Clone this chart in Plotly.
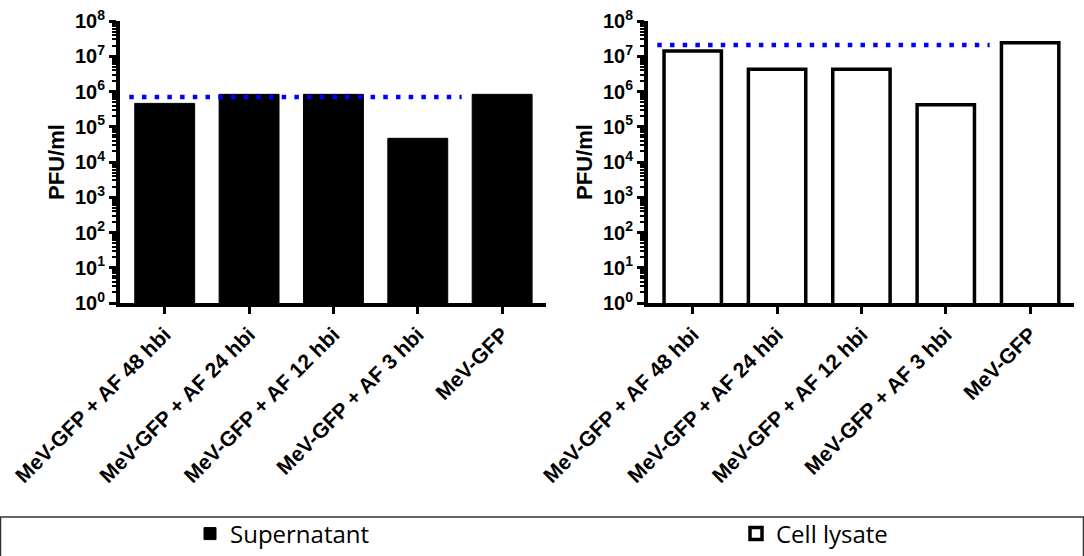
import plotly.graph_objects as go
from plotly.subplots import make_subplots

categories = ["MeV-GFP + AF 48 hbi", "MeV-GFP + AF 24 hbi", "MeV-GFP + AF 12 hbi",
              "MeV-GFP + AF 3 hbi", "MeV-GFP"]
supernatant = [4.6e5, 8.3e5, 8.3e5, 4.7e4, 8.3e5]
cell_lysate = [1.4e7, 4.3e6, 4.3e6, 4.2e5, 2.4e7]
ref_supernatant = 7.0e5
ref_cell_lysate = 2.1e7
ref_x = [-0.42, 3.52]
ytick_exponents = list(range(0, 9))
ytick_vals = [10 ** n for n in ytick_exponents]
ytick_text = ["10<sup>%d</sup>" % n for n in ytick_exponents]
minor_vals = [m * 10 ** n for n in range(0, 8) for m in range(2, 10)]

W, H = 1084, 556
FONT = "Liberation Sans, Arial, sans-serif"
xpos = list(range(len(categories)))

fig = make_subplots(rows=1, cols=2)

fig.add_trace(go.Bar(x=xpos, y=supernatant, name="Supernatant", width=0.71, legend="legend",
                     marker=dict(color="black", line=dict(color="black", width=1))),
              row=1, col=1)
fig.add_trace(go.Scatter(x=ref_x, y=[ref_supernatant] * 2, mode="lines", showlegend=False,
                         line=dict(color="#0000ff", width=4.5, dash="4.5px,8.2px")),
              row=1, col=1)
fig.add_trace(go.Bar(x=xpos, y=cell_lysate, name="Cell lysate", width=0.68, legend="legend2",
                     marker=dict(color="white", line=dict(color="black", width=3.5))),
              row=1, col=2)
fig.add_trace(go.Scatter(x=ref_x, y=[ref_cell_lysate] * 2, mode="lines", showlegend=False,
                         line=dict(color="#0000ff", width=4.5, dash="4.5px,8.2px")),
              row=1, col=2)

xdoms = [[120 / W, 546 / W], [648 / W, 1074 / W]]
ydom = [1 - 303 / H, 1 - 21 / H]

for i, dom in enumerate(xdoms, start=1):
    fig.update_xaxes(domain=dom, range=[-0.53, 4.52], tickmode="array", tickvals=xpos,
                     ticktext=categories, tickangle=-45, showline=True, linewidth=4,
                     linecolor="black", ticks="outside", ticklen=7, tickwidth=3,
                     tickcolor="black", showgrid=False, zeroline=False, automargin=False,
                     tickfont=dict(family=FONT, size=21, color="black", weight="bold"),
                     row=1, col=i)
    fig.update_yaxes(domain=ydom, type="log", range=[0, 8], tickmode="array",
                     tickvals=ytick_vals, ticktext=ytick_text, showline=True, linewidth=4,
                     linecolor="black", ticks="outside", ticklen=7, tickwidth=3,
                     tickcolor="black", showgrid=False, zeroline=False, automargin=False,
                     minor=dict(tickmode="array", tickvals=minor_vals, ticks="outside",
                                ticklen=4, tickwidth=2, tickcolor="black", showgrid=False),
                     tickfont=dict(family=FONT, size=20, color="black", weight="bold"),
                     title=dict(text="PFU/ml", standoff=5,
                                font=dict(family=FONT, size=22, color="black", weight="bold")),
                     row=1, col=i)

fig.add_shape(type="rect", xref="paper", yref="paper", x0=0.5 / W, x1=(W - 0.5) / W,
              y0=-0.02, y1=1 - 517 / H, line=dict(color="#333333", width=1.5),
              fillcolor="rgba(0,0,0,0)", layer="below")

legend_common = dict(orientation="h", xanchor="left", y=1 - 534 / H, yanchor="middle",
                     font=dict(family="Open Sans, sans-serif", size=24, color="black"),
                     bgcolor="rgba(0,0,0,0)", borderwidth=0)

fig.update_layout(
    width=W, height=H, margin=dict(l=0, r=0, t=0, b=0, autoexpand=False),
    paper_bgcolor="white", plot_bgcolor="white", bargap=0.3,
    legend=dict(x=190 / W, **legend_common),
    legend2=dict(x=736 / W, **legend_common),
)

fig.write_html("out.html")
